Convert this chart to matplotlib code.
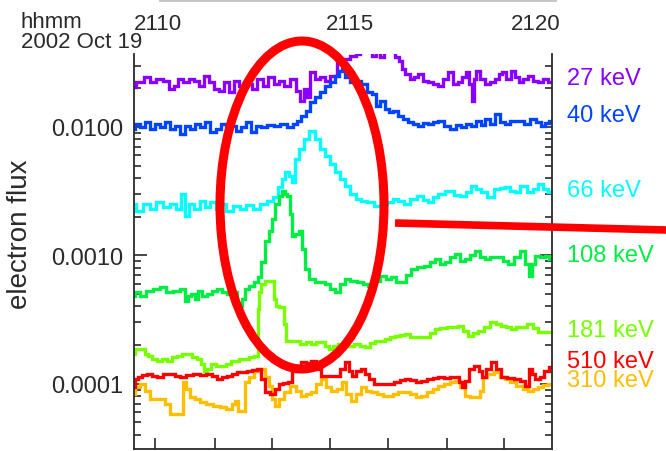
import matplotlib
matplotlib.use('Agg')
import matplotlib.pyplot as plt
from matplotlib import ticker
from matplotlib.patches import Ellipse
from matplotlib.lines import Line2D

plt.rcParams['font.family'] = ['Liberation Sans', 'DejaVu Sans']

# time in minutes after 21:00 UT, 2002 Oct 19; flux per energy channel
t_27 = [9.95, 10.12, 10.31, 10.43, 10.60, 10.77, 10.89, 11.01, 11.08, 11.25, 11.37, 11.49, 11.61, 11.73,
        11.85, 11.97, 12.09, 12.21, 12.33, 12.45, 12.57, 12.72, 12.88, 13.00, 13.13, 13.25, 13.41, 13.53,
        13.65, 13.80, 13.92, 14.01, 14.09, 14.16, 14.25, 14.38, 14.50, 14.62, 14.76, 14.93, 15.10, 15.24,
        15.36, 15.46, 15.65, 15.75, 15.84, 15.94, 16.03, 16.20, 16.30, 16.37, 16.44, 16.54, 16.66, 16.75,
        16.85, 16.97, 17.09, 17.21, 17.33, 17.45, 17.57, 17.69, 17.81, 17.91, 17.98, 18.05, 18.13, 18.17,
        18.22, 18.34, 18.46, 18.58, 18.70, 18.77, 18.85, 18.97, 19.09, 19.18, 19.25, 19.38, 19.50, 19.62,
        19.74, 19.86, 19.98]
f_27 = [0.0205, 0.0224, 0.0245, 0.0224, 0.0236, 0.0228, 0.0198, 0.0209, 0.0236, 0.0224, 0.0236, 0.0228,
        0.0209, 0.0249, 0.0224, 0.0198, 0.0191, 0.0224, 0.0187, 0.0228, 0.0209, 0.0216, 0.0198, 0.0236,
        0.0209, 0.0245, 0.0216, 0.0228, 0.0209, 0.0236, 0.0191, 0.0159, 0.0198, 0.0171, 0.0268, 0.0236,
        0.0245, 0.0228, 0.0249, 0.0321, 0.0338, 0.0357, 0.0370, 0.0442, 0.0442, 0.0357, 0.0390, 0.0350,
        0.0442, 0.0442, 0.0350, 0.0326, 0.0283, 0.0259, 0.0236, 0.0245, 0.0259, 0.0228, 0.0224, 0.0216,
        0.0209, 0.0236, 0.0268, 0.0216, 0.0224, 0.0245, 0.0268, 0.0216, 0.0159, 0.0236, 0.0273, 0.0236,
        0.0216, 0.0224, 0.0236, 0.0259, 0.0268, 0.0236, 0.0273, 0.0245, 0.0224, 0.0236, 0.0249, 0.0228,
        0.0224, 0.0236, 0.0224]

t_40 = [9.95, 10.07, 10.19, 10.31, 10.43, 10.55, 10.67, 10.79, 10.91, 11.03, 11.15, 11.27, 11.39, 11.51,
        11.63, 11.75, 11.88, 12.00, 12.12, 12.24, 12.36, 12.48, 12.60, 12.72, 12.84, 12.96, 13.08, 13.25,
        13.41, 13.56, 13.73, 13.85, 13.92, 14.04, 14.16, 14.25, 14.38, 14.50, 14.62, 14.74, 14.86, 14.93,
        15.00, 15.10, 15.24, 15.36, 15.48, 15.65, 15.75, 15.82, 15.96, 16.06, 16.13, 16.25, 16.37, 16.49,
        16.61, 16.73, 16.85, 16.97, 17.09, 17.21, 17.33, 17.50, 17.64, 17.76, 17.88, 18.00, 18.13, 18.25,
        18.37, 18.46, 18.58, 18.70, 18.82, 18.94, 19.09, 19.25, 19.42, 19.57, 19.69, 19.81, 19.90, 19.98]
f_40 = [0.00965, 0.01055, 0.0100, 0.01094, 0.00965, 0.01055, 0.0100, 0.01094, 0.00965, 0.01018, 0.00882,
        0.01018, 0.00965, 0.01055, 0.0100, 0.01094, 0.00914, 0.00965, 0.01055, 0.00965, 0.01018, 0.00931,
        0.0100, 0.01094, 0.00914, 0.01018, 0.0100, 0.01036, 0.01018, 0.01055, 0.0100, 0.01055, 0.01113,
        0.01218, 0.01332, 0.01565, 0.0171, 0.01873, 0.02085, 0.0224, 0.02494, 0.0273, 0.0283, 0.0245,
        0.0224, 0.0228, 0.0216, 0.01873, 0.01806, 0.01457, 0.01594, 0.01381, 0.01308, 0.01332, 0.01218,
        0.01154, 0.01094, 0.01055, 0.01018, 0.01074, 0.01055, 0.01094, 0.01113, 0.01018, 0.00965, 0.01036,
        0.0100, 0.01055, 0.01018, 0.01113, 0.01036, 0.01154, 0.01055, 0.01262, 0.01094, 0.01055, 0.01113,
        0.01113, 0.01055, 0.01154, 0.01094, 0.01018, 0.01074, 0.01113]

t_66 = [9.95, 10.12, 10.29, 10.43, 10.60, 10.77, 10.91, 11.08, 11.15, 11.25, 11.37, 11.49, 11.63, 11.75,
        11.88, 12.00, 12.12, 12.28, 12.45, 12.60, 12.76, 12.93, 13.08, 13.25, 13.37, 13.49, 13.58, 13.65,
        13.73, 13.80, 13.89, 14.01, 14.13, 14.25, 14.38, 14.50, 14.62, 14.74, 14.86, 14.98, 15.10, 15.24,
        15.36, 15.48, 15.65, 15.84, 15.99, 16.13, 16.25, 16.37, 16.54, 16.68, 16.85, 16.97, 17.09, 17.21,
        17.33, 17.57, 17.74, 17.88, 18.00, 18.13, 18.25, 18.37, 18.53, 18.70, 18.82, 18.94, 19.06, 19.18,
        19.33, 19.50, 19.62, 19.74, 19.86, 19.98]
f_66 = [0.00252, 0.00222, 0.00252, 0.00230, 0.00261, 0.00239, 0.00252, 0.00230, 0.00301, 0.00203, 0.00252,
        0.00230, 0.00266, 0.00239, 0.00261, 0.00230, 0.00252, 0.00222, 0.00243, 0.00230, 0.00247, 0.00230,
        0.00252, 0.00266, 0.00285, 0.00341, 0.00394, 0.00447, 0.00416, 0.00373, 0.00564, 0.00674, 0.00807,
        0.00931, 0.00807, 0.00674, 0.00595, 0.00515, 0.00447, 0.00394, 0.00348, 0.00301, 0.00275, 0.00266,
        0.00261, 0.00243, 0.00252, 0.00261, 0.00275, 0.00266, 0.00252, 0.00275, 0.00290, 0.00270, 0.00261,
        0.00285, 0.00301, 0.00318, 0.00296, 0.00290, 0.00312, 0.00348, 0.00329, 0.00312, 0.00285, 0.00329,
        0.00335, 0.00341, 0.00318, 0.00312, 0.00348, 0.00312, 0.00329, 0.00360, 0.00329, 0.00312]

t_108 = [9.95, 10.05, 10.19, 10.36, 10.53, 10.67, 10.84, 11.01, 11.15, 11.25, 11.32, 11.39, 11.49, 11.56,
         11.68, 11.80, 11.92, 12.04, 12.16, 12.28, 12.40, 12.52, 12.62, 12.69, 12.81, 12.93, 13.00, 13.08,
         13.17, 13.25, 13.32, 13.41, 13.49, 13.56, 13.63, 13.68, 13.75, 13.80, 13.89, 13.97, 14.04, 14.13,
         14.25, 14.38, 14.50, 14.62, 14.74, 14.86, 14.98, 15.10, 15.24, 15.41, 15.53, 15.65, 15.82, 15.96,
         16.08, 16.20, 16.32, 16.44, 16.56, 16.68, 16.85, 17.02, 17.14, 17.26, 17.38, 17.50, 17.62, 17.74,
         17.86, 17.98, 18.10, 18.22, 18.34, 18.46, 18.61, 18.77, 18.89, 19.01, 19.18, 19.33, 19.42, 19.50,
         19.57, 19.66, 19.78, 19.90, 19.98]
f_108 = [0.000484, 0.000520, 0.000484, 0.000529, 0.000549, 0.000569, 0.000520, 0.000529, 0.000549, 0.000442,
         0.000484, 0.000502, 0.000459, 0.000529, 0.000484, 0.000502, 0.000529, 0.000549, 0.000520, 0.000502,
         0.000520, 0.000405, 0.000459, 0.000549, 0.000579, 0.000622, 0.000681, 0.000890, 0.001297, 0.001551,
         0.001923, 0.002517, 0.002904, 0.003177, 0.003010, 0.002904, 0.002104, 0.001419, 0.001470, 0.001551,
         0.001123, 0.000785, 0.000657, 0.000622, 0.000622, 0.000600, 0.000549, 0.000520, 0.000600, 0.000657,
         0.000633, 0.000622, 0.000600, 0.000579, 0.000633, 0.000693, 0.000657, 0.000681, 0.000622, 0.000622,
         0.000705, 0.000785, 0.000814, 0.000828, 0.000890, 0.000939, 0.000859, 0.000890, 0.000973, 0.001027,
         0.000906, 0.000939, 0.001009, 0.001084, 0.000973, 0.000939, 0.000973, 0.000973, 0.000906, 0.000859,
         0.000973, 0.001084, 0.000859, 0.000693, 0.000859, 0.000991, 0.000973, 0.000991, 0.000939]

t_181 = [9.95, 10.07, 10.19, 10.29, 10.36, 10.48, 10.60, 10.72, 10.84, 10.96, 11.08, 11.20, 11.32, 11.44,
         11.56, 11.63, 11.68, 11.78, 11.88, 12.00, 12.12, 12.24, 12.36, 12.45, 12.57, 12.69, 12.81, 12.93,
         12.96, 13.00, 13.08, 13.17, 13.25, 13.32, 13.37, 13.41, 13.49, 13.56, 13.61, 13.65, 13.77, 13.89,
         14.04, 14.16, 14.28, 14.40, 14.52, 14.62, 14.69, 14.81, 14.93, 15.05, 15.17, 15.34, 15.46, 15.58,
         15.70, 15.82, 15.94, 16.06, 16.18, 16.30, 16.42, 16.54, 16.66, 16.78, 16.90, 17.02, 17.14, 17.26,
         17.40, 17.57, 17.69, 17.81, 17.93, 18.05, 18.17, 18.29, 18.46, 18.61, 18.73, 18.85, 18.97, 19.09,
         19.21, 19.33, 19.50, 19.62, 19.74, 19.86, 19.98]
f_181 = [0.000171, 0.000187, 0.000187, 0.000171, 0.000165, 0.000157, 0.000151, 0.000157, 0.000151, 0.000162,
         0.000165, 0.000171, 0.000171, 0.000162, 0.000157, 0.000143, 0.000126, 0.000131, 0.000143, 0.000138,
         0.000138, 0.000143, 0.000151, 0.000151, 0.000157, 0.000157, 0.000162, 0.000165, 0.000384, 0.000520,
         0.000600, 0.000633, 0.000633, 0.000633, 0.000459, 0.000405, 0.000397, 0.000397, 0.000293, 0.000216,
         0.000216, 0.000216, 0.000205, 0.000212, 0.000205, 0.000212, 0.000212, 0.000198, 0.000187, 0.000198,
         0.000205, 0.000198, 0.000198, 0.000205, 0.000198, 0.000194, 0.000208, 0.000216, 0.000216, 0.000224,
         0.000232, 0.000236, 0.000241, 0.000245, 0.000232, 0.000232, 0.000232, 0.000232, 0.000249, 0.000268,
         0.000273, 0.000278, 0.000278, 0.000283, 0.000259, 0.000236, 0.000249, 0.000259, 0.000278, 0.000304,
         0.000293, 0.000283, 0.000278, 0.000268, 0.000278, 0.000278, 0.000293, 0.000273, 0.000254, 0.000254,
         0.000254]

t_310 = [9.95, 10.07, 10.19, 10.31, 10.43, 10.55, 10.67, 10.79, 10.89, 11.01, 11.11, 11.18, 11.27, 11.39,
         11.51, 11.63, 11.80, 11.97, 12.12, 12.28, 12.38, 12.45, 12.52, 12.62, 12.69, 12.81, 12.93, 13.08,
         13.17, 13.25, 13.32, 13.41, 13.53, 13.65, 13.80, 13.92, 14.04, 14.16, 14.28, 14.40, 14.52, 14.64,
         14.76, 14.93, 15.00, 15.12, 15.24, 15.36, 15.48, 15.60, 15.72, 15.89, 16.01, 16.13, 16.25, 16.37,
         16.54, 16.68, 16.80, 16.92, 17.09, 17.21, 17.33, 17.50, 17.62, 17.74, 17.86, 17.98, 18.10, 18.25,
         18.32, 18.39, 18.53, 18.70, 18.82, 18.94, 19.06, 19.25, 19.38, 19.50, 19.62, 19.74, 19.86, 19.98]
f_310 = [0.0000836, 0.0000948, 0.0001000, 0.0000882, 0.0000764, 0.0000764, 0.0000764, 0.0000699, 0.0000584,
         0.0000584, 0.0000584, 0.0001036, 0.0000914, 0.0000792, 0.0000764, 0.0000724, 0.0000699, 0.0000674,
         0.0000662, 0.0000639, 0.0000699, 0.0000737, 0.0000616, 0.0000616, 0.0001036, 0.0001134, 0.0001260,
         0.0001310, 0.0001134, 0.0000965, 0.0000764, 0.0000674, 0.0000764, 0.0000866, 0.0000965, 0.0000882,
         0.0000806, 0.0000836, 0.0000866, 0.0001000, 0.0001094, 0.0000948, 0.0000882, 0.0000914, 0.0001036,
         0.0000836, 0.0000737, 0.0000836, 0.0000948, 0.0000882, 0.0000866, 0.0000836, 0.0000806, 0.0000806,
         0.0000836, 0.0000866, 0.0000866, 0.0000836, 0.0000792, 0.0000806, 0.0000866, 0.0000914, 0.0000965,
         0.0001000, 0.0001036, 0.0001055, 0.0000948, 0.0000806, 0.0000792, 0.0000792, 0.0000882, 0.0001134,
         0.0001197, 0.0001240, 0.0001134, 0.0001094, 0.0001036, 0.0000965, 0.0000914, 0.0000882, 0.0000914,
         0.0000948, 0.0000982, 0.0001000]

t_510 = [9.95, 10.05, 10.12, 10.24, 10.36, 10.48, 10.60, 10.77, 10.91, 11.03, 11.15, 11.32, 11.49, 11.63,
         11.80, 11.92, 12.04, 12.16, 12.28, 12.40, 12.52, 12.64, 12.76, 12.88, 13.00, 13.08, 13.17, 13.32,
         13.41, 13.49, 13.61, 13.73, 13.80, 13.92, 14.04, 14.16, 14.28, 14.40, 14.52, 14.69, 14.86, 15.00,
         15.10, 15.17, 15.24, 15.36, 15.48, 15.58, 15.65, 15.82, 15.96, 16.13, 16.30, 16.44, 16.54, 16.68,
         16.80, 16.92, 17.09, 17.21, 17.33, 17.50, 17.62, 17.74, 17.81, 17.88, 17.98, 18.08, 18.22, 18.29,
         18.37, 18.49, 18.61, 18.73, 18.85, 19.01, 19.18, 19.30, 19.42, 19.50, 19.57, 19.66, 19.78, 19.88,
         19.98]
f_510 = [0.0000948, 0.0001094, 0.0001134, 0.0001175, 0.0001197, 0.0001154, 0.0001134, 0.0001197, 0.0001197,
         0.0001154, 0.0001134, 0.0001175, 0.0001197, 0.0001175, 0.0001197, 0.0001154, 0.0001094, 0.0001134,
         0.0001154, 0.0001197, 0.0001240, 0.0001240, 0.0001260, 0.0001285, 0.0001310, 0.0001094, 0.0000866,
         0.0000836, 0.0000914, 0.0001000, 0.0001018, 0.0001036, 0.0001260, 0.0001380, 0.0001480, 0.0001457,
         0.0001510, 0.0001310, 0.0001154, 0.0001154, 0.0001154, 0.0001310, 0.0001480, 0.0001260, 0.0001154,
         0.0001260, 0.0001310, 0.0001197, 0.0001094, 0.0001000, 0.0001000, 0.0001000, 0.0001036, 0.0001074,
         0.0001094, 0.0001074, 0.0001036, 0.0001055, 0.0001094, 0.0001113, 0.0001134, 0.0001113, 0.0001134,
         0.0001134, 0.0001036, 0.0000948, 0.0001055, 0.0001310, 0.0001380, 0.0001260, 0.0001134, 0.0001310,
         0.0001480, 0.0001310, 0.0001134, 0.0001113, 0.0001094, 0.0001055, 0.0000965, 0.0001310, 0.0001197,
         0.0001094, 0.0001134, 0.0001260, 0.0001356]

W, H = 666, 452


def fx(x):
    return x / W


def fy(y):
    return 1 - y / H


fig = plt.figure(figsize=(W / 100, H / 100), dpi=100)
ax = fig.add_axes([fx(134), fy(450), fx(551.5) - fx(134), fy(55) - fy(450)])

# channel label, times, fluxes, colour, label baseline (pixels from top)
channels = [
    ('27 keV', t_27, f_27, '#8a00ff', 85),
    ('40 keV', t_40, f_40, '#0044ff', 122),
    ('66 keV', t_66, f_66, '#00ffff', 197),
    ('108 keV', t_108, f_108, '#00ee44', 262),
    ('181 keV', t_181, f_181, '#77ff00', 337),
    ('310 keV', t_310, f_310, '#ffbf00', 387),
    ('510 keV', t_510, f_510, '#ff0000', 368),
]

for name, t, f, col, ylab in channels:
    ax.plot(t, f, color=col, lw=2.4, drawstyle='steps-mid', solid_joinstyle='miter')
    fig.text(fx(567), fy(ylab), name, color=col, fontsize=17, va='baseline', ha='left')

ax.set_yscale('log')
ax.set_xlim(9.98, 20.0)
ax.set_ylim(3.1e-5, 0.037)

ax.yaxis.set_major_locator(ticker.FixedLocator([1e-4, 1e-3, 1e-2]))
ax.yaxis.set_major_formatter(ticker.FormatStrFormatter('%.4f'))
ax.yaxis.set_minor_locator(ticker.LogLocator(base=10, subs=range(2, 10)))
ax.yaxis.set_minor_formatter(ticker.NullFormatter())
ax.xaxis.set_major_locator(ticker.FixedLocator([10.48, 11.92, 13.29, 14.69, 16.08, 17.50, 18.87]))
ax.xaxis.set_major_formatter(ticker.NullFormatter())
ax.xaxis.set_minor_locator(ticker.NullLocator())

ax.tick_params(axis='y', which='major', direction='in', length=9, width=1.2, left=True, right=True,
               labelsize=17, labelcolor='#2a2a2a', pad=8, color='#2a2a2a')
ax.tick_params(axis='y', which='minor', direction='in', length=5, width=1.2, left=True, right=True,
               color='#2a2a2a')
ax.tick_params(axis='x', which='major', direction='in', length=8, width=1.2, top=False, bottom=True,
               color='#2a2a2a')

ax.spines['top'].set_visible(False)
for s in ('left', 'right', 'bottom'):
    ax.spines[s].set_color('#2a2a2a')
    ax.spines[s].set_linewidth(1.3)

fig.text(fx(20), fy(234), 'electron flux', rotation=90, ha='center', va='center', fontsize=20,
         color='#2a2a2a')

# time labels above the panel
fig.text(fx(21), fy(28), 'hhmm', fontsize=16, color='#2a2a2a', va='baseline')
fig.text(fx(21), fy(48), '2002 Oct 19', fontsize=16, color='#2a2a2a', va='baseline')
fig.text(fx(134), fy(30), '2110', fontsize=16, color='#2a2a2a', va='baseline', ha='left')
fig.text(fx(350), fy(30), '2115', fontsize=16, color='#2a2a2a', va='baseline', ha='center')
fig.text(fx(560), fy(30), '2120', fontsize=16, color='#2a2a2a', va='baseline', ha='right')
fig.add_artist(Line2D([fx(160), fx(555)], [fy(0.5), fy(0.5)], color='#c4c4c4', lw=2))

# highlight of the injection around 2113-2115
fig.add_artist(Ellipse((fx(302), fy(206)), fx(164), 328 / H, fill=False, ec='#ff0000', lw=6.5))
fig.add_artist(Line2D([fx(395), fx(666)], [fy(224), fy(231)], color='#ff0000', lw=5.5,
                      solid_capstyle='butt'))

fig.savefig('out.png', dpi=100)
